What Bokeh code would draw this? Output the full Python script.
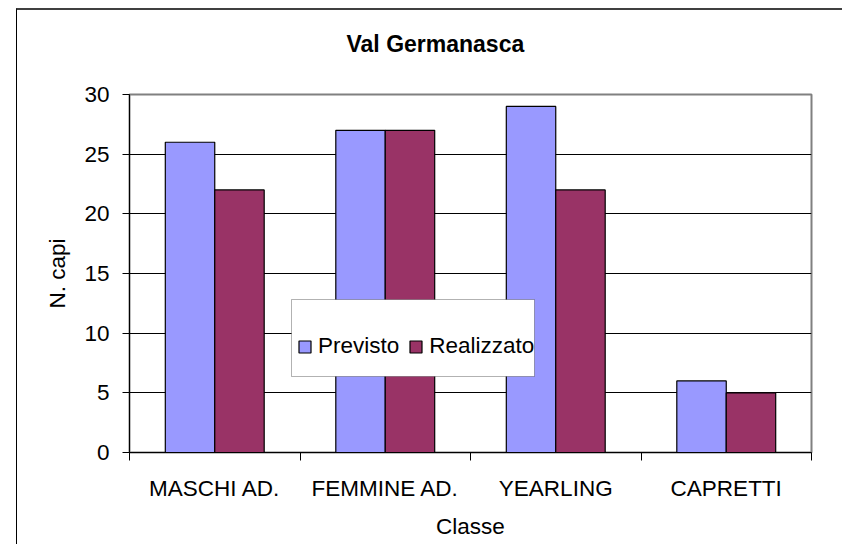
import numpy as np
from bokeh.plotting import figure
from bokeh.models import (ColumnDataSource, Range1d, FixedTicker, Legend, LegendItem,
                          BoxAnnotation)
from bokeh.transform import dodge
from bokeh.embed import file_html
from bokeh.resources import INLINE

# ---- data ----
categories = ["MASCHI AD.", "FEMMINE AD.", "YEARLING", "CAPRETTI"]
previsto = [26, 27, 29, 6]
realizzato = [22, 27, 22, 5]
y_ticks = [0, 5, 10, 15, 20, 25, 30]
series_names = ["Previsto", "Realizzato"]

BLUE = "#9999FF"
RED = "#993366"
FONT = "Liberation Sans"
FS = "22.5px"

n = len(categories)
centers = list(np.arange(n) + 0.5)
src = ColumnDataSource(dict(x=centers, previsto=previsto, realizzato=realizzato))

p = figure(width=826, height=536, output_backend="svg", toolbar_location=None,
           x_range=Range1d(0, n), y_range=Range1d(0, 30),
           min_border_left=112, min_border_right=32, min_border_top=84,
           min_border_bottom=94)
p.margin = (8, 0, 0, 16)
p.styles = {"border-top": "2px solid #404040", "border-left": "1px solid black"}
p.background_fill_color = "white"
p.border_fill_color = "white"
p.outline_line_color = "#808080"
p.outline_line_width = 2

# title
p.title.text = "Val Germanasca"
p.title.align = "left"
p.title.vertical_align = "top"
p.title.offset = 217
p.title.standoff = 0
p.title.padding = dict(left=0, right=0, top=20, bottom=36)
p.title.text_font = FONT
p.title.text_font_size = "23px"
p.title.text_font_style = "bold"
p.title.text_color = "black"

bw = 0.29
r1 = p.vbar(x=dodge("x", -bw / 2, range=p.x_range), top="previsto", width=bw,
            source=src, fill_color=BLUE, line_color="black", line_width=1.2)
r2 = p.vbar(x=dodge("x", bw / 2, range=p.x_range), top="realizzato", width=bw,
            source=src, fill_color=RED, line_color="black", line_width=1.2)

# grid
p.xgrid.visible = False
p.ygrid.ticker = FixedTicker(ticks=y_ticks)
p.ygrid.grid_line_color = "black"
p.ygrid.grid_line_width = 1

# y axis
p.yaxis.ticker = FixedTicker(ticks=y_ticks)
p.yaxis.axis_line_color = "black"
p.yaxis.major_tick_line_color = "black"
p.yaxis.major_tick_out = 7
p.yaxis.major_tick_in = 0
p.yaxis.minor_tick_line_color = None
p.yaxis.major_label_standoff = 13
p.yaxis.major_label_text_font = FONT
p.yaxis.major_label_text_font_size = FS
p.yaxis.major_label_text_color = "black"
p.yaxis.axis_label = "N. capi"
p.yaxis.axis_label_text_font = FONT
p.yaxis.axis_label_text_font_size = FS
p.yaxis.axis_label_text_font_style = "normal"
p.yaxis.axis_label_text_color = "black"
p.yaxis.axis_label_standoff = 11

# x axis: labels at centres, ticks at category boundaries
p.xaxis.ticker = FixedTicker(ticks=centers, minor_ticks=list(range(n + 1)))
p.xaxis.major_label_overrides = {c: name for c, name in zip(centers, categories)}
p.xaxis.axis_line_color = "black"
p.xaxis.major_tick_out = 0
p.xaxis.major_tick_in = 0
p.xaxis.major_tick_line_color = None
p.xaxis.minor_tick_line_color = "black"
p.xaxis.minor_tick_out = 8
p.xaxis.minor_tick_in = 0
p.xaxis.major_label_standoff = 15
p.xaxis.major_label_text_font = FONT
p.xaxis.major_label_text_font_size = FS
p.xaxis.major_label_text_color = "black"
p.xaxis.axis_label = "Classe"
p.xaxis.axis_label_text_font = FONT
p.xaxis.axis_label_text_font_size = FS
p.xaxis.axis_label_text_font_style = "normal"
p.xaxis.axis_label_text_color = "black"
p.xaxis.axis_label_standoff = 10

# legend box
p.add_layout(BoxAnnotation(left=162, right=405, bottom=76, top=153, left_units="screen",
                           right_units="screen", top_units="screen", bottom_units="screen",
                           fill_color="white", fill_alpha=1, line_color="black", line_width=1))
legend = Legend(items=[LegendItem(label=series_names[0], renderers=[r1]),
                       LegendItem(label=series_names[1], renderers=[r2])],
                orientation="horizontal", location=(168, 93), padding=0, margin=0,
                spacing=9, label_standoff=6, glyph_width=15, glyph_height=15,
                label_text_font=FONT, label_text_font_size=FS, label_text_color="black",
                background_fill_alpha=0, border_line_color=None)
p.add_layout(legend, "center")

open("out.html", "w").write(file_html(p, INLINE))
